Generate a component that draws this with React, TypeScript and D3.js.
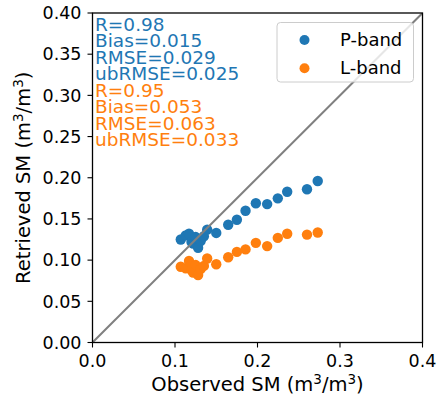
import React from "react";
import * as d3 from "d3";

const observed = [0.107, 0.113, 0.117, 0.120, 0.122, 0.125, 0.128, 0.131, 0.135, 0.139, 0.150, 0.1645, 0.175, 0.1855, 0.198, 0.2117, 0.2246, 0.236, 0.260, 0.273];
const pBand = [0.125, 0.130, 0.132, 0.122, 0.120, 0.128, 0.115, 0.123, 0.129, 0.137, 0.133, 0.143, 0.149, 0.160, 0.169, 0.168, 0.175, 0.183, 0.186, 0.196];
const lBand = [0.092, 0.090, 0.099, 0.088, 0.085, 0.094, 0.082, 0.089, 0.093, 0.102, 0.095, 0.1035, 0.110, 0.113, 0.121, 0.117, 0.127, 0.132, 0.131, 0.1335];
const xTicks = [0, 0.1, 0.2, 0.3, 0.4];
const yTicks = [0, 0.05, 0.1, 0.15, 0.2, 0.25, 0.3, 0.35, 0.4];
const pStats = ["R=0.98", "Bias=0.015", "RMSE=0.029", "ubRMSE=0.025"];
const lStats = ["R=0.95", "Bias=0.053", "RMSE=0.063", "ubRMSE=0.033"];
const seriesNames = ["P-band", "L-band"];

const BLUE = "#1f77b4";
const ORANGE = "#ff7f0e";
const FONT = "DejaVu Sans, sans-serif";

export default function App() {
  const W = 437, H = 403;
  const x = d3.scaleLinear().domain([0, 0.4]).range([92.5, 422.5]);
  const y = d3.scaleLinear().domain([0, 0.4]).range([342.5, 13]);
  const [x0, x1] = x.range();
  const [y0, y1] = y.range();
  const stats = [...pStats.map(t => ({ t, c: BLUE })), ...lStats.map(t => ({ t, c: ORANGE }))];
  return (
    <svg width={W} height={H} style={{ position: "absolute", left: 0, top: 0, background: "#fff" }} fontFamily={FONT}>
      <defs>
        <clipPath id="plot"><rect x={x0} y={y1} width={x1 - x0} height={y0 - y1} /></clipPath>
      </defs>
      <g clipPath="url(#plot)">
        {observed.map((o, i) => (
          <circle key={"p" + i} cx={x(o)} cy={y(pBand[i])} r={5.2} fill={BLUE} />
        ))}
        {observed.map((o, i) => (
          <circle key={"l" + i} cx={x(o)} cy={y(lBand[i])} r={5.2} fill={ORANGE} />
        ))}
        <line x1={x(0)} y1={y(0)} x2={x(0.4)} y2={y(0.4)} stroke="#808080" strokeWidth={2} />
      </g>
      {stats.map((s, i) => (
        <text key={i} x={95} y={31 + i * 16.45} fontSize={18.5} fill={s.c}>{s.t}</text>
      ))}
      <rect x={277} y={22.5} width={136.5} height={59.5} rx={3.5} fill="#fff" fillOpacity={0.8} stroke="#cccccc" strokeWidth={1} />
      {seriesNames.map((n, i) => (
        <g key={n}>
          <circle cx={304.5} cy={40 + i * 28.3} r={5} fill={i === 0 ? BLUE : ORANGE} />
          <text x={340} y={45.5 + i * 28.3} fontSize={18} fill="#000">{n}</text>
        </g>
      ))}
      <rect x={x0} y={y1} width={x1 - x0} height={y0 - y1} fill="none" stroke="#000" strokeWidth={1.3} />
      {xTicks.map(t => (
        <g key={"xt" + t}>
          <line x1={x(t)} x2={x(t)} y1={y0} y2={y0 + 5} stroke="#000" strokeWidth={1.1} />
          <text x={x(t)} y={367} fontSize={17.5} textAnchor="middle">{d3.format(".1f")(t)}</text>
        </g>
      ))}
      {yTicks.map(t => (
        <g key={"yt" + t}>
          <line x1={x0 - 5} x2={x0} y1={y(t)} y2={y(t)} stroke="#000" strokeWidth={1.1} />
          <text x={81.5} y={y(t)} dy="0.36em" fontSize={17.5} textAnchor="end">{d3.format(".2f")(t)}</text>
        </g>
      ))}
      <text x={(x0 + x1) / 2} y={391} fontSize={19.5} textAnchor="middle">
        Observed SM (m<tspan dy={-7} fontSize={13.5}>3</tspan><tspan dy={7}>/m</tspan><tspan dy={-7} fontSize={13.5}>3</tspan><tspan dy={7}>)</tspan>
      </text>
      <text transform={`translate(29.5,${(y0 + y1) / 2}) rotate(-90)`} fontSize={19.5} textAnchor="middle">
        Retrieved SM (m<tspan dy={-7} fontSize={13.5}>3</tspan><tspan dy={7}>/m</tspan><tspan dy={-7} fontSize={13.5}>3</tspan><tspan dy={7}>)</tspan>
      </text>
    </svg>
  );
}
